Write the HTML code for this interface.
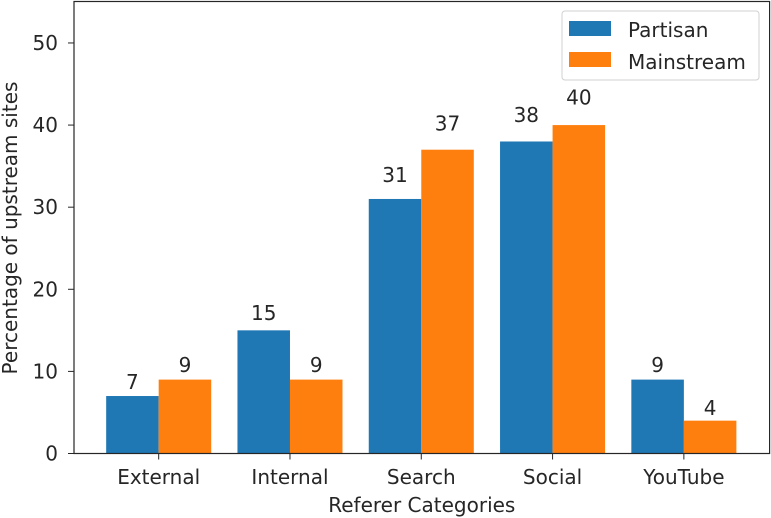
<!DOCTYPE html>
<html><head><meta charset="utf-8"><style>
body{margin:0;background:#fff}
svg{display:block;font-family:"DejaVu Sans","Liberation Sans",sans-serif}
</style></head><body>
<svg id="chart" width="771" height="518" viewBox="0 0 771 518" xmlns="http://www.w3.org/2000/svg"></svg>
<script>
const categories = ["External","Internal","Search","Social","YouTube"];
const partisan = [7,15,31,38,9];
const mainstream = [9,9,37,40,4];
const yTicks = [0,10,20,30,40,50];
const seriesNames = ["Partisan","Mainstream"];

const NS="http://www.w3.org/2000/svg";
const svg=document.getElementById('chart');
const L=74,R=769.6,T=1.5,B=453.5;
const xMin=-0.645,xMax=4.653,yMax=55.05;
const FS=20;
const xs=v=>L+(v-xMin)/(xMax-xMin)*(R-L);
const ys=v=>B-v/yMax*(B-T);
function mk(tag,attrs,parent){const e=document.createElementNS(NS,tag);for(const k in attrs)e.setAttribute(k,attrs[k]);(parent||svg).appendChild(e);return e;}
const colors=["#1f77b4","#ff7f0e"];
const series=[partisan,mainstream];
const bw=0.4;
series.forEach((vals,s)=>{
  vals.forEach((v,i)=>{
    const x0=xs(i-bw+s*bw), x1=xs(i+s*bw);
    const r=mk('rect',{x:x0,y:ys(v),width:x1-x0,height:ys(0)-ys(v),fill:colors[s]});
    
    
    const t=mk('text',{x:(x0+x1)/2,y:ys(v*1.05)-4,'text-anchor':'middle','font-size':FS,fill:'#262626'});
    t.textContent=v;
    
    
  });
});
const fr=mk('rect',{x:L,y:T,width:R-L,height:B-T,fill:'none',stroke:'#262626','stroke-width':1.2});


yTicks.forEach(v=>{
  const y=ys(v);
  const tk=mk('line',{x1:L-6,x2:L,y1:y,y2:y,stroke:'#262626','stroke-width':1});
  
  
  const t=mk('text',{x:L-16,y:y+7,'text-anchor':'end','font-size':FS,fill:'#262626'});
  t.textContent=v;
  
  
});
categories.forEach((c,i)=>{
  const x=xs(i);
  const tk=mk('line',{x1:x,x2:x,y1:B,y2:B+6,stroke:'#262626','stroke-width':1});
  
  
  const t=mk('text',{x:x,y:484,'text-anchor':'middle','font-size':FS,fill:'#262626'});
  t.textContent=c;
  
  
});
const xl=mk('text',{x:(L+R)/2,y:512,'text-anchor':'middle','font-size':FS,fill:'#262626'});
xl.textContent='Referer Categories';


const yl=mk('text',{x:0,y:0,'text-anchor':'middle','font-size':FS,fill:'#262626',transform:'translate(17,228) rotate(-90)'});
yl.textContent='Percentage of upstream sites';


const lg=mk('g',{});


mk('rect',{x:562,y:11,width:197,height:69,rx:3,fill:'#fff','fill-opacity':0.8,stroke:'#d0d0d0'},lg);
seriesNames.forEach((n,s)=>{
  const g=mk('g',{},lg);
  
  
  mk('rect',{x:569,y:21+s*31,width:42,height:15,fill:colors[s]},g);
  const t=mk('text',{x:628,y:37+s*32,'font-size':FS,fill:'#262626'},g);
  t.textContent=n;
});
</script>
</body></html>
